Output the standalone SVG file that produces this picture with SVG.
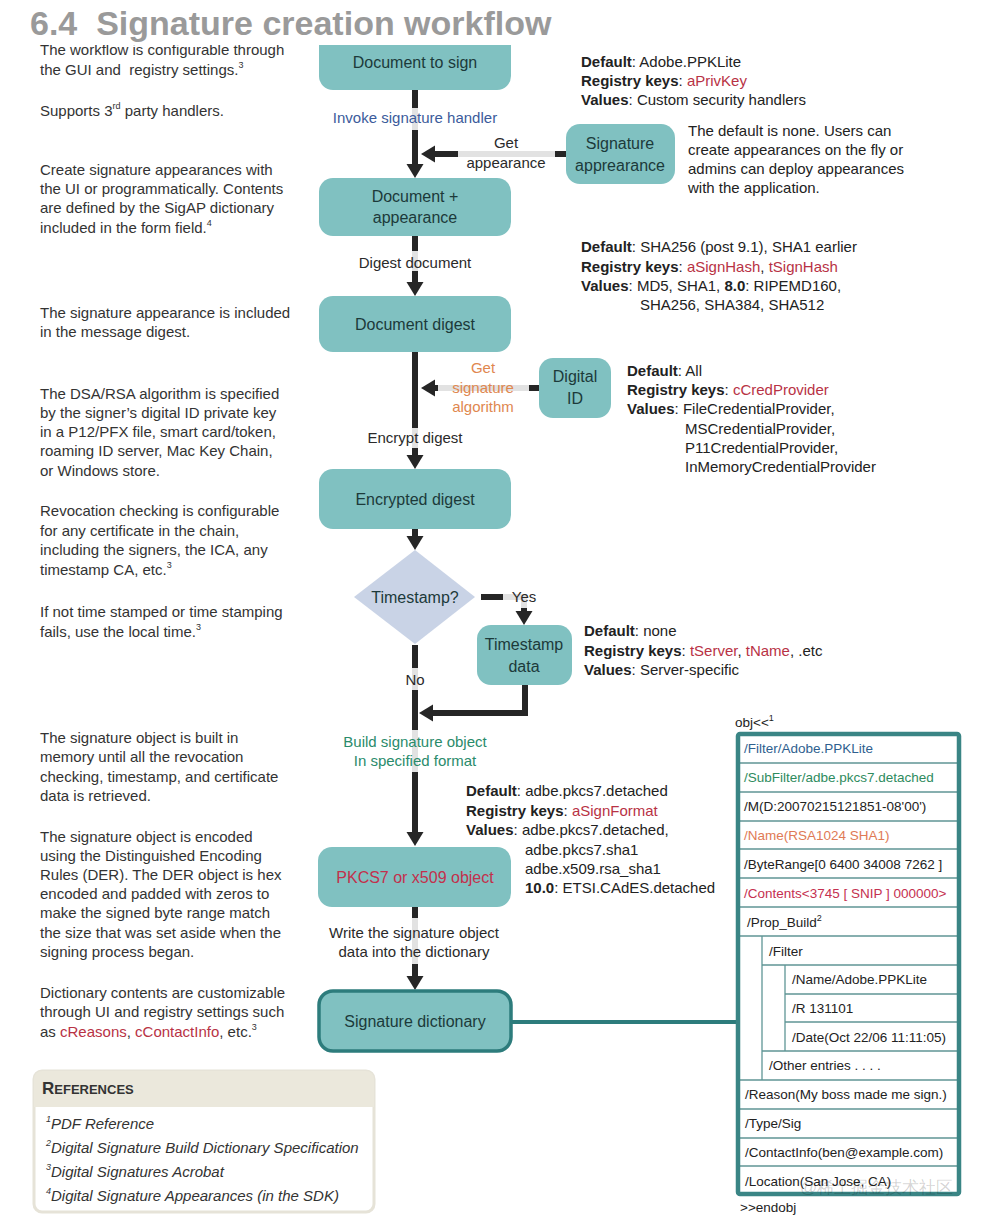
<svg xmlns="http://www.w3.org/2000/svg" width="989" height="1230" viewBox="0 0 989 1230">
<style>
text{font-family:"Liberation Sans",Arial,sans-serif}
.lt{font-size:15px;fill:#333}
.cf{font-size:15px;fill:#222}
.b{font-weight:bold}
.red{fill:#b83245}
.box{fill:#80c1c1}
.bt{font-size:16px;fill:#1c3a3a;text-anchor:middle}
.ln{stroke:#262626;stroke-width:6;fill:none}
.lg{fill:#e2e2e2}
.lab{font-size:15px;fill:#2a2a2a;text-anchor:middle}
.tb{font-size:13.5px;fill:#222}
.row{stroke:#5f9595;stroke-width:1.3}
.sup{font-size:9px}
.ref{font-size:15px;font-style:italic;fill:#333}
</style>
<defs>
<marker id="ah" markerUnits="userSpaceOnUse" markerWidth="15" markerHeight="17" refX="1" refY="8.5" orient="auto" overflow="visible">
<path d="M0,0 L14,8.5 L0,17 z" fill="#262626"/>
</marker>
</defs>
<rect width="989" height="1230" fill="#fff"/>

<g id="left-notes">
<text class="lt" x="40" y="55">The workflow is configurable through</text>
<text class="lt" x="40" y="75" xml:space="preserve">the GUI and  registry settings.<tspan class="sup" dy="-7">3</tspan></text>
<text class="lt" x="40" y="116">Supports 3<tspan class="sup" dy="-7">rd</tspan><tspan dy="7"> party handlers.</tspan></text>
<text class="lt" x="40" y="175">Create signature appearances with</text>
<text class="lt" x="40" y="194">the UI or programmatically. Contents</text>
<text class="lt" x="40" y="213">are defined by the SigAP dictionary</text>
<text class="lt" x="40" y="233">included in the form field.<tspan class="sup" dy="-7">4</tspan></text>
<text class="lt" x="40" y="318">The signature appearance is included</text>
<text class="lt" x="40" y="337">in the message digest.</text>
<text class="lt" x="40" y="399">The DSA/RSA algorithm is specified</text>
<text class="lt" x="40" y="418">by the signer’s digital ID private key</text>
<text class="lt" x="40" y="437">in a P12/PFX file, smart card/token,</text>
<text class="lt" x="40" y="456">roaming ID server, Mac Key Chain,</text>
<text class="lt" x="40" y="476">or Windows store.</text>
<text class="lt" x="40" y="516">Revocation checking is configurable</text>
<text class="lt" x="40" y="536">for any certificate in the chain,</text>
<text class="lt" x="40" y="555">including the signers, the ICA, any</text>
<text class="lt" x="40" y="575">timestamp CA, etc.<tspan class="sup" dy="-7">3</tspan></text>
<text class="lt" x="40" y="617">If not time stamped or time stamping</text>
<text class="lt" x="40" y="637">fails, use the local time.<tspan class="sup" dy="-7">3</tspan></text>
<text class="lt" x="40" y="743">The signature object is built in</text>
<text class="lt" x="40" y="762">memory until all the revocation</text>
<text class="lt" x="40" y="782">checking, timestamp, and certificate</text>
<text class="lt" x="40" y="801">data is retrieved.</text>
<text class="lt" x="40" y="842">The signature object is encoded</text>
<text class="lt" x="40" y="861">using the Distinguished Encoding</text>
<text class="lt" x="40" y="880">Rules (DER). The DER object is hex</text>
<text class="lt" x="40" y="899">encoded and padded with zeros to</text>
<text class="lt" x="40" y="918">make the signed byte range match</text>
<text class="lt" x="40" y="938">the size that was set aside when the</text>
<text class="lt" x="40" y="957">signing process began.</text>
<text class="lt" x="40" y="998">Dictionary contents are customizable</text>
<text class="lt" x="40" y="1017">through UI and registry settings such</text>
<text class="lt" x="40" y="1037">as <tspan class="red">cReasons</tspan>, <tspan class="red">cContactInfo</tspan>, etc.<tspan class="sup" dy="-7">3</tspan></text>
</g>

<g id="connectors">
<line class="ln" x1="415" y1="90" x2="415" y2="165" marker-end="url(#ah)"/>
<rect class="lg" x="412" y="108" width="6" height="22"/>
<line class="ln" x1="566" y1="154" x2="434" y2="154" marker-end="url(#ah)"/>
<rect class="lg" x="458" y="151" width="97" height="6"/>
<line class="ln" x1="415" y1="236" x2="415" y2="283" marker-end="url(#ah)"/>
<rect class="lg" x="412" y="251" width="6" height="20"/>
<line class="ln" x1="540" y1="388" x2="434" y2="388" marker-end="url(#ah)"/>
<rect class="lg" x="438" y="385" width="91" height="6"/>
<line class="ln" x1="415" y1="352" x2="415" y2="456" marker-end="url(#ah)"/>
<rect class="lg" x="412" y="428" width="6" height="20"/>
<line class="ln" x1="415" y1="529" x2="415" y2="537" marker-end="url(#ah)"/>
<path class="ln" d="M481,597 H524 V612" marker-end="url(#ah)"/>
<rect class="lg" x="503" y="594" width="24" height="6"/>
<rect class="lg" x="521" y="597" width="6" height="11"/>
<line class="ln" x1="415" y1="645" x2="415" y2="833" marker-end="url(#ah)"/>
<rect class="lg" x="412" y="668" width="6" height="22"/>
<rect class="lg" x="412" y="730" width="6" height="42"/>
<path class="ln" d="M525,685 V713 H432" marker-end="url(#ah)"/>
<line class="ln" x1="415" y1="907" x2="415" y2="977" marker-end="url(#ah)"/>
<rect class="lg" x="412" y="918" width="6" height="46"/>
<line x1="512" y1="1022" x2="738" y2="1022" stroke="#2d7c7c" stroke-width="4"/>
<text x="415" y="123" font-size="15" fill="#3b5b9b" text-anchor="middle">Invoke signature handler</text>
<text class="lab" x="506" y="148">Get</text>
<text class="lab" x="506" y="168">appearance</text>
<text class="lab" x="415" y="268">Digest document</text>
<text class="lab" x="483" y="373" style="fill:#e0874f">Get</text>
<text class="lab" x="483" y="393" style="fill:#e0874f">signature</text>
<text class="lab" x="483" y="412" style="fill:#e0874f">algorithm</text>
<text class="lab" x="415" y="443">Encrypt digest</text>
<text class="lab" x="524" y="602">Yes</text>
<text class="lab" x="415" y="685">No</text>
<text class="lab" x="415" y="747" style="fill:#2a8b6b">Build signature object</text>
<text class="lab" x="415" y="766" style="fill:#2a8b6b">In specified format</text>
<text class="lab" x="414" y="938">Write the signature object</text>
<text class="lab" x="414" y="957">data into the dictionary</text>
</g>

<g id="n-doc-to-sign">
<rect class="box" x="319" y="20" width="192" height="70" rx="14"/>
<text class="bt" x="415" y="68">Document to sign</text>
</g>
<g id="n-doc-appearance">
<rect class="box" x="319" y="178" width="192" height="58" rx="14"/>
<text class="bt" x="415" y="202">Document +</text>
<text class="bt" x="415" y="223">appearance</text>
</g>
<g id="n-sig-appearance">
<rect class="box" x="566" y="124" width="109" height="60" rx="14"/>
<text class="bt" x="620" y="149">Signature</text>
<text class="bt" x="620" y="171">apprearance</text>
</g>
<g id="n-doc-digest">
<rect class="box" x="319" y="296" width="192" height="56" rx="14"/>
<text class="bt" x="415" y="330">Document digest</text>
</g>
<g id="n-digital-id">
<rect class="box" x="539" y="358" width="72" height="60" rx="14"/>
<text class="bt" x="575" y="382">Digital</text>
<text class="bt" x="575" y="404">ID</text>
</g>
<g id="n-encrypted-digest">
<rect class="box" x="319" y="469" width="192" height="60" rx="14"/>
<text class="bt" x="415" y="505">Encrypted digest</text>
</g>
<g id="n-timestamp-q">
<polygon points="415,550 475,597 415,644 354,597" fill="#c9d3e6"/>
<text class="bt" x="415" y="603">Timestamp?</text>
</g>
<g id="n-timestamp-data">
<rect class="box" x="477" y="625" width="95" height="60" rx="14"/>
<text class="bt" x="524" y="650">Timestamp</text>
<text class="bt" x="524" y="672">data</text>
</g>
<g id="n-pkcs7">
<rect class="box" x="318" y="847" width="193" height="60" rx="14"/>
<text class="bt" x="415" y="883" style="fill:#c3304c">PKCS7 or x509 object</text>
</g>
<g id="n-sig-dict">
<rect class="box" x="319" y="991" width="192" height="60" rx="14" stroke="#2d7c7c" stroke-width="3.5"/>
<text class="bt" x="415" y="1027">Signature dictionary</text>
</g>

<g id="config-notes">
<text class="cf" x="581" y="67"><tspan class="b">Default</tspan>: Adobe.PPKLite</text>
<text class="cf" x="581" y="86"><tspan class="b">Registry keys</tspan>: <tspan class="red">aPrivKey</tspan></text>
<text class="cf" x="581" y="105"><tspan class="b">Values</tspan>: Custom security handlers</text>
<text class="cf" x="688" y="136">The default is none. Users can</text>
<text class="cf" x="688" y="155">create appearances on the fly or</text>
<text class="cf" x="688" y="174">admins can deploy appearances</text>
<text class="cf" x="688" y="193">with the application.</text>
<text class="cf" x="581" y="252"><tspan class="b">Default</tspan>: SHA256 (post 9.1), SHA1 earlier</text>
<text class="cf" x="581" y="272"><tspan class="b">Registry keys</tspan>: <tspan class="red">aSignHash</tspan>, <tspan class="red">tSignHash</tspan></text>
<text class="cf" x="581" y="291"><tspan class="b">Values</tspan>: MD5, SHA1, <tspan class="b">8.0</tspan>: RIPEMD160,</text>
<text class="cf" x="640" y="310">SHA256, SHA384, SHA512</text>
<text class="cf" x="627" y="376"><tspan class="b">Default</tspan>: All</text>
<text class="cf" x="627" y="395"><tspan class="b">Registry keys</tspan>: <tspan class="red">cCredProvider</tspan></text>
<text class="cf" x="627" y="414"><tspan class="b">Values</tspan>: FileCredentialProvider,</text>
<text class="cf" x="685" y="434">MSCredentialProvider,</text>
<text class="cf" x="685" y="453">P11CredentialProvider,</text>
<text class="cf" x="685" y="472">InMemoryCredentialProvider</text>
<text class="cf" x="584" y="636"><tspan class="b">Default</tspan>: none</text>
<text class="cf" x="584" y="656"><tspan class="b">Registry keys</tspan>: <tspan class="red">tServer</tspan>, <tspan class="red">tName</tspan>, .etc</text>
<text class="cf" x="584" y="675"><tspan class="b">Values</tspan>: Server-specific</text>
<text class="cf" x="466" y="796"><tspan class="b">Default</tspan>: adbe.pkcs7.detached</text>
<text class="cf" x="466" y="816"><tspan class="b">Registry keys</tspan>: <tspan class="red">aSignFormat</tspan></text>
<text class="cf" x="466" y="835"><tspan class="b">Values</tspan>: adbe.pkcs7.detached,</text>
<text class="cf" x="525" y="855">adbe.pkcs7.sha1</text>
<text class="cf" x="525" y="874">adbe.x509.rsa_sha1</text>
<text class="cf" x="525" y="893"><tspan class="b">10.0</tspan>: ETSI.CAdES.detached</text>
</g>

<g id="n-sig-dict-table">
<text class="tb" x="735" y="727">obj&lt;&lt;<tspan class="sup" dy="-6">1</tspan></text>
<rect x="738" y="734" width="221" height="460" fill="#fff"/>
<g class="row">
<line x1="738" y1="763" x2="959" y2="763"/>
<line x1="738" y1="792" x2="959" y2="792"/>
<line x1="738" y1="821" x2="959" y2="821"/>
<line x1="738" y1="849" x2="959" y2="849"/>
<line x1="738" y1="878" x2="959" y2="878"/>
<line x1="738" y1="907" x2="959" y2="907"/>
<line x1="738" y1="936" x2="959" y2="936"/>
<line x1="762" y1="965" x2="959" y2="965"/>
<line x1="785" y1="994" x2="959" y2="994"/>
<line x1="785" y1="1022" x2="959" y2="1022"/>
<line x1="762" y1="1051" x2="959" y2="1051"/>
<line x1="738" y1="1080" x2="959" y2="1080"/>
<line x1="738" y1="1109" x2="959" y2="1109"/>
<line x1="738" y1="1138" x2="959" y2="1138"/>
<line x1="738" y1="1166" x2="959" y2="1166"/>
<line x1="762" y1="936" x2="762" y2="1080"/>
<line x1="785" y1="965" x2="785" y2="1051"/>
</g>
<rect x="738" y="734" width="221" height="460" fill="none" stroke="#3a8585" stroke-width="4.5" rx="2"/>
<text class="tb" x="744" y="753" style="fill:#2f5f8f">/Filter/Adobe.PPKLite</text>
<text class="tb" x="744" y="782" style="fill:#2e8b5e">/SubFilter/adbe.pkcs7.detached</text>
<text class="tb" x="744" y="811">/M(D:20070215121851-08'00')</text>
<text class="tb" x="744" y="840" style="fill:#e07a55">/Name(RSA1024 SHA1)</text>
<text class="tb" x="744" y="869">/ByteRange[0 6400 34008 7262 ]</text>
<text class="tb" x="744" y="898" style="fill:#c53050">/Contents&lt;3745 [ SNIP ] 000000&gt;</text>
<text class="tb" x="747" y="927">/Prop_Build<tspan class="sup" dy="-6">2</tspan></text>
<text class="tb" x="769" y="956">/Filter</text>
<text class="tb" x="792" y="984">/Name/Adobe.PPKLite</text>
<text class="tb" x="792" y="1013">/R 131101</text>
<text class="tb" x="792" y="1042">/Date(Oct 22/06 11:11:05)</text>
<text class="tb" x="769" y="1070">/Other entries . . . .</text>
<text class="tb" x="745" y="1099">/Reason(My boss made me sign.)</text>
<text class="tb" x="745" y="1128">/Type/Sig</text>
<text class="tb" x="745" y="1157">/ContactInfo(ben@example.com)</text>
<text class="tb" x="745" y="1186">/Location(San Jose, CA)</text>
<text class="tb" x="740" y="1212">&gt;&gt;endobj</text>
</g>

<g id="references">
<rect x="34" y="1071" width="340" height="141" rx="8" fill="#fff" stroke="#e6e3d8" stroke-width="3"/>
<path d="M34,1107 V1079 a8,8 0 0 1 8,-8 H366 a8,8 0 0 1 8,8 V1107 Z" fill="#ebe8dc"/>
<text x="42" y="1094" font-weight="bold" fill="#333"><tspan font-size="17">R</tspan><tspan font-size="13">EFERENCES</tspan></text>
<text class="ref" x="46" y="1129"><tspan class="sup" dy="-7">1</tspan><tspan dy="7">PDF Reference</tspan></text>
<text class="ref" x="46" y="1153"><tspan class="sup" dy="-7">2</tspan><tspan dy="7">Digital Signature Build Dictionary Specification</tspan></text>
<text class="ref" x="46" y="1177"><tspan class="sup" dy="-7">3</tspan><tspan dy="7">Digital Signatures Acrobat</tspan></text>
<text class="ref" x="46" y="1201"><tspan class="sup" dy="-7">4</tspan><tspan dy="7">Digital Signature Appearances (in the SDK)</tspan></text>
</g>

<rect x="0" y="0" width="989" height="45" fill="#fff"/>
<text x="30" y="35" font-size="34" font-weight="bold" fill="#9a9a9a" xml:space="preserve">6.4  Signature creation workflow</text>
<text x="800" y="1193" font-size="17" fill="#000" fill-opacity="0.18" font-family="'Liberation Sans','Noto Sans CJK SC',sans-serif">@稀土掘金技术社区</text>
</svg>
